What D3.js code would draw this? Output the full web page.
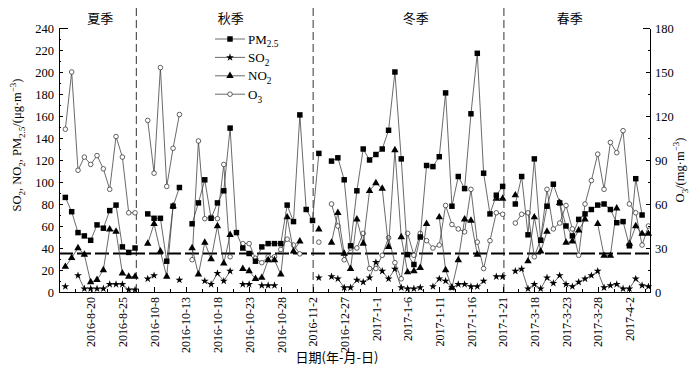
<!DOCTYPE html>
<html lang="zh">
  <head>
    <meta charset="UTF-8" />
    <title>air quality by season</title>
    <style type="text/css">
      html,
      body {
        margin: 0;
        padding: 0;
        background: #fff;
      }

      svg {
        display: block;
        font-family: "Liberation Serif", "Times New Roman", serif;
      }

      .cn {
        font-family: "Noto Sans CJK SC", sans-serif;
      }

      .axis path,
      .axis line {
        stroke: #000;
        shape-rendering: crispEdges;
      }
    </style>
  </head>
  <body>
    <svg id="chart"></svg>

    <script src="https://cdn.jsdelivr.net/npm/d3@7"></script>
    <script>
      // === Data === //

      // one slot per sampled day, null = no measurement
      var pm25 = [
        86, 73, 54, 51, 47, 61, 58, 74, 79, 41, 36, 40,
        null, 71, 67, 67, 28, 78, 95, null, 62, 81, 102, 67, 81, 92, 149, 54,
        40, 35, 28, 41, 44, 44, 44, 79, 64, 161, 75, 65,
        126, null, 119, 122, 102, 42, 92, 130, 120, 125, 130, 147, 200, 121,
        34, 25, 50, 115, 114, 123, 181, 78, 105, 94, 162, 217, 108, 71, 88, 96,
        null, 80, 105, 52, 121, 47, 78, 98, 81, 60, 51, 66, 71, 75, 79, 80,
        75, 63, 64, 42, 103, 70, null
      ];

      var so2 = [
        5, null, 15, 3, 3, 3, 3, 7, 7, 7, 2, 2,
        null, 12, 15, null, null, null, 11, null, null, null, 10, 7, 17, 10, 19, null,
        7, 7, null, 6, 6, 6, null, null, null, null, null, null,
        13, null, 14, 12, 4, 4, 11, 9, 13, 27, 19, 12, 21, 4,
        3, 3, 4, null, 5, 12, 10, 4, 7, 7, 5, 5, 10, null, 14, 14,
        null, 19, 21, 3, 7, 3, 13, 8, 15, 7, 5, 9, 12, 15, 19, 4,
        6, 7, 3, 3, 12, 6, 5
      ];

      var no2 = [
        23, 31, 40, 34, 9, 11, 20, 57, 55, 17, 14, 14,
        null, 44, 62, 37, 14, 78, null, null, 40, 16, 45, 30, 60, 26, 52, null,
        21, 19, 12, 13, 29, 29, 16, 68, 37, 46, null, null,
        57, null, 45, 72, 35, 21, 66, 44, 92, 99, 94, 41, 129, 50,
        18, 19, 22, 62, null, 68, 20, 4, 29, 66, 65, 34, null, null, 85, 85,
        null, 88, null, 28, 68, 37, 55, null, 81, 45, 46, 56, 66, null, 62, 33,
        33, 76, null, 44, 60, 53, 53
      ];

      // O3 is read on the right axis
      var o3 = [
        111, 150, 83, 92, 87, 93, 84, 70, 106, 92, 54, 54,
        null, 117, 81, 153, 72, 98, 121, null, 22, 103, 50, 51, 50, 87, 24, null,
        33, 33, 23, 20, 24, 24, 29, 36, 32, 26, null, null,
        34, null, 60, 45, 22, 30, 30, 40, 16, 16, 25, 37, 20, 9,
        40, 25, 40, 35, 30, 32, 59, 46, 43, 41, 70, 34, 16, 35, 54, 53,
        null, 47, 53, 54, 24, 36, 70, 43, 47, 59, 43, 25, 60, 76, 94, 70,
        102, 95, 110, 60, 54, 32, 45
      ];

      var tickIdx = [4, 9, 14, 19, 24, 29, 34, 39, 44, 49, 54, 59, 64, 69, 74, 79, 84, 89];
      var tickLabels = [
        "2016-8-20", "2016-8-25", "2016-10-8", "2016-10-13", "2016-10-18",
        "2016-10-23", "2016-10-28", "2016-11-2", "2016-12-27", "2017-1-1",
        "2017-1-6", "2017-1-11", "2017-1-16", "2017-1-21", "2017-3-18",
        "2017-3-23", "2017-3-28", "2017-4-2"
      ];

      var seasons = ["夏季", "秋季", "冬季", "春季"];
      var seasonPos = [5.5, 26.1, 55.3, 79.6];
      var seasonBreaks = [11.2, 39.1, 69.2];
      var standard = 35; // grade I daily PM2.5 limit

      // === Globals === //

      var width = 699,
        height = 372;
      var plot = { left: 59, right: 650, top: 28, bottom: 292 };

      var svg = d3
        .select("#chart")
        .attr("width", width)
        .attr("height", height);

      var x = d3.scaleLinear().domain([-1, 92.25]).range([plot.left, plot.right]);
      var yL = d3.scaleLinear().domain([0, 240]).range([plot.bottom, plot.top]);
      var yR = d3.scaleLinear().domain([0, 180]).range([plot.bottom, plot.top]);

      // === Helpers === //

      // text with sub / superscripts: parts = [[text, "", "sub" or "sup"], ...]
      function rich(sel, parts, size) {
        var shift = 0;
        parts.forEach(function(p) {
          var target = p[1] === "sub" ? size * 0.3 : p[1] === "sup" ? -size * 0.4 : 0;
          sel
            .append("tspan")
            .attr("dy", target - shift)
            .style("font-size", (p[1] ? size * 0.72 : size) + "px")
            .text(p[0]);
          shift = target;
        });
        return sel;
      } // rich()

      var series = [
        { key: "PM", sub: "2.5", values: pm25, y: yL, mark: "square" },
        { key: "SO", sub: "2", values: so2, y: yL, mark: "star" },
        { key: "NO", sub: "2", values: no2, y: yL, mark: "triangle" },
        { key: "O", sub: "3", values: o3, y: yR, mark: "circle" }
      ];

      var symbols = {
        square: d3.symbol().type(d3.symbolSquare).size(30),
        star: d3.symbol().type(d3.symbolStar).size(19),
        triangle: d3.symbol().type(d3.symbolTriangle).size(24)
      };

      function drawMark(g, type) {
        if (type === "circle") {
          g.append("circle")
            .attr("r", 2.3)
            .attr("fill", "#fff")
            .attr("stroke", "#222")
            .attr("stroke-width", 0.7);
        } else {
          g.append("path")
            .attr("d", symbols[type]())
            .attr("fill", "#000");
        }
      } // drawMark()

      // === Reference lines === //

      svg
        .selectAll("line.season")
        .data(seasonBreaks)
        .enter()
        .append("line")
        .attr("class", "season")
        .attr("x1", function(d) { return x(d); })
        .attr("x2", function(d) { return x(d); })
        .attr("y1", 8)
        .attr("y2", plot.bottom)
        .attr("stroke", "#333")
        .attr("stroke-width", 1)
        .attr("stroke-dasharray", "8,4");

      svg
        .append("line")
        .attr("x1", plot.left)
        .attr("x2", plot.right)
        .attr("y1", yL(standard))
        .attr("y2", yL(standard))
        .attr("stroke", "#000")
        .attr("stroke-width", 2)
        .attr("stroke-dasharray", "14,4");

      svg
        .selectAll("text.season")
        .data(seasons)
        .enter()
        .append("text")
        .attr("class", "season cn")
        .attr("x", function(d, i) { return x(seasonPos[i]); })
        .attr("y", 23)
        .attr("text-anchor", "middle")
        .style("font-size", "13px")
        .text(function(d) { return d; });

      // === Series === //

      var drawOrder = [3, 2, 1, 0];

      drawOrder.forEach(function(k) {
        var s = series[k];
        var pts = s.values.map(function(v, i) { return { i: i, v: v }; });

        var line = d3
          .line()
          .defined(function(d) { return d.v !== null; })
          .x(function(d) { return x(d.i); })
          .y(function(d) { return s.y(d.v); });

        svg
          .append("path")
          .datum(pts)
          .attr("d", line)
          .attr("fill", "none")
          .attr("stroke", "#444")
          .attr("stroke-width", 0.8);

        svg
          .selectAll(null)
          .data(pts.filter(function(d) { return d.v !== null; }))
          .enter()
          .append("g")
          .attr("transform", function(d) {
            return "translate(" + x(d.i) + "," + s.y(d.v) + ")";
          })
          .each(function() { drawMark(d3.select(this), s.mark); });
      });

      // === Axes === //

      var gx = svg
        .append("g")
        .attr("class", "axis")
        .attr("transform", "translate(0," + plot.bottom + ")")
        .call(
          d3.axisBottom(x)
            .tickValues(tickIdx)
            .tickSize(-5)
            .tickSizeOuter(0)
            .tickFormat(function(d, i) { return tickLabels[i]; })
        );

      gx.selectAll("text")
        .attr("transform", "rotate(-90)")
        .attr("text-anchor", "end")
        .attr("x", -5)
        .attr("y", 0)
        .attr("dy", "0.35em");

      svg
        .append("g")
        .attr("class", "axis")
        .attr("transform", "translate(0," + plot.bottom + ")")
        .call(
          d3.axisBottom(x)
            .tickValues(tickIdx.map(function(d) { return d - 2.5; }).concat([91.5]))
            .tickSize(-3)
            .tickSizeOuter(0)
            .tickFormat("")
        )
        .select(".domain")
        .remove();

      var gl = svg
        .append("g")
        .attr("class", "axis")
        .attr("transform", "translate(" + plot.left + ",0)")
        .call(d3.axisLeft(yL).tickValues(d3.range(0, 241, 20)).tickSize(-4).tickSizeOuter(0).tickPadding(5));

      svg
        .append("g")
        .attr("class", "axis")
        .attr("transform", "translate(" + plot.left + ",0)")
        .call(d3.axisLeft(yL).tickValues(d3.range(10, 240, 20)).tickSize(-2).tickSizeOuter(0).tickFormat(""))
        .select(".domain")
        .remove();

      var gr = svg
        .append("g")
        .attr("class", "axis")
        .attr("transform", "translate(" + plot.right + ",0)")
        .call(d3.axisRight(yR).tickValues(d3.range(0, 181, 30)).tickSize(-4).tickSizeOuter(0).tickPadding(5));

      svg
        .append("g")
        .attr("class", "axis")
        .attr("transform", "translate(" + plot.right + ",0)")
        .call(d3.axisRight(yR).tickValues(d3.range(15, 180, 30)).tickSize(-2).tickSizeOuter(0).tickFormat(""))
        .select(".domain")
        .remove();

      // top caps are longer
      gl.selectAll(".tick").filter(function(d) { return d === 240; }).select("line").attr("x2", 9);
      gr.selectAll(".tick").filter(function(d) { return d === 180; }).select("line").attr("x2", -7);

      svg.selectAll(".axis text")
        .style("font-size", "12.5px")
        .style("font-family", "Liberation Serif, serif")
        .attr("fill", "#000");
      gx.selectAll("text").style("font-size", "12px");

      // axis titles
      rich(
        svg.append("text")
          .attr("transform", "translate(21,145) rotate(-90)")
          .attr("text-anchor", "middle"),
        [["SO", ""], ["2", "sub"], [", NO", ""], ["2", "sub"], [", PM", ""], ["2.5", "sub"],
         ["/(μg·m", ""], ["−3", "sup"], [")", ""]],
        12.5
      );

      rich(
        svg.append("text")
          .attr("transform", "translate(684,170) rotate(-90)")
          .attr("text-anchor", "middle"),
        [["O", ""], ["3", "sub"], ["/(mg·m", ""], ["−3", "sup"], [")", ""]],
        12.5
      );

      svg
        .append("text")
        .attr("class", "cn")
        .attr("x", 337)
        .attr("y", 362)
        .attr("text-anchor", "middle")
        .style("font-size", "13px")
        .text("日期(年-月-日)");

      // === Legend === //

      var legend = svg
        .selectAll("g.legend")
        .data(series)
        .enter()
        .append("g")
        .attr("class", "legend")
        .attr("transform", function(d, i) { return "translate(215," + (39 + i * 18.4) + ")"; });

      legend
        .append("line")
        .attr("x1", 0)
        .attr("x2", 30)
        .attr("stroke", "#444")
        .attr("stroke-width", 0.8);

      legend.each(function(d) {
        var g = d3.select(this).append("g").attr("transform", "translate(15,0)");
        drawMark(g, d.mark);
        rich(
          d3.select(this).append("text").attr("x", 33).attr("y", 4.5),
          [[d.key, ""], [d.sub, "sub"]],
          13
        );
      });
    </script>
  </body>
</html>
